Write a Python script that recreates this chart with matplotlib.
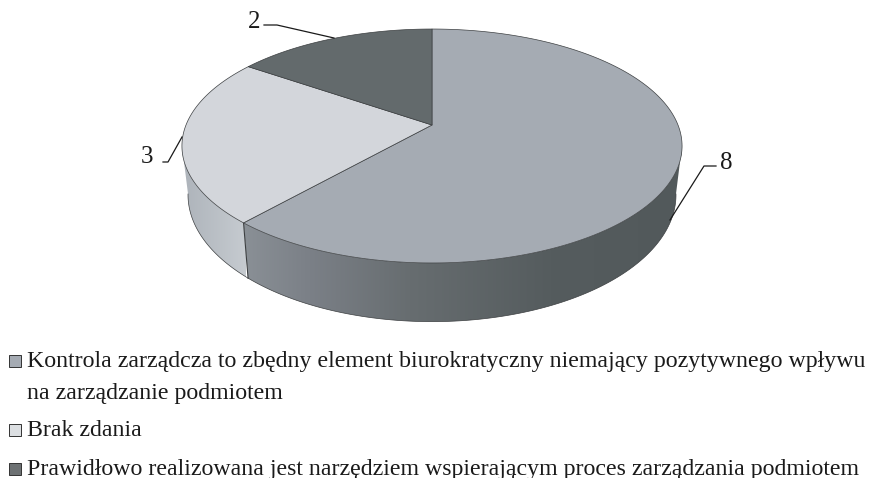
import numpy as np
import matplotlib
matplotlib.use("Agg")
import matplotlib.pyplot as plt
from matplotlib.colors import LinearSegmentedColormap
from matplotlib.patches import Polygon, Rectangle

plt.rcParams['font.family'] = ['Liberation Serif', 'DejaVu Serif']

W, H = 871, 478

values = [8, 3, 2]
value_labels = ['8', '3', '2']
legend_lines = [
    ["Kontrola zarządcza to zbędny element biurokratyczny niemający pozytywnego wpływu",
     "na zarządzanie podmiotem"],
    ["Brak zdania"],
    ["Prawidłowo realizowana jest narzędziem wspierającym proces zarządzania podmiotem"],
]
face_colors = ['#a5abb3', '#d3d6db', '#636a6c']
legend_colors = ['#a5abb3', '#dcdfe2', '#6d7173']
edge_color = '#3c3f41'

# perspective of the two discs: x centre, apex y, x scale, y scale, foreshortening
CX = 432
TOP_DISC = (125, 246, 113.2, 0.1795)
BOTTOM_DISC = (172, 240, 122.7, 0.18)
SILHOUETTE = 100  # degrees from the top where the wall stops being visible


def project(theta, disc):
    # theta in degrees, clockwise from the top of the disc
    apex_y, a, b, k = disc
    t = np.radians(np.asarray(theta, dtype=float))
    u, v = np.sin(t), np.cos(t)
    return np.column_stack([CX + a * u / (1 + k * v), apex_y - b * v / (1 + k * v)])


def wall(ax, t0, t1, cmap_stops, x0, x1):
    steps = np.linspace(t0, t1, 120)
    outline = np.vstack([project(steps, TOP_DISC), project(steps[::-1], BOTTOM_DISC)])
    patch = Polygon(outline, closed=True, facecolor='none', edgecolor='none')
    ax.add_patch(patch)
    cmap = LinearSegmentedColormap.from_list('wall', cmap_stops)
    im = ax.imshow(np.linspace(0, 1, 256)[None, :], cmap=cmap, aspect='auto',
                   extent=[x0, x1, H, 0], zorder=1)
    im.set_clip_path(patch)
    lower = project(steps, BOTTOM_DISC)
    ax.plot(lower[:, 0], lower[:, 1], color=edge_color, lw=0.5, zorder=2)


fig = plt.figure(figsize=(W / 100, H / 100), dpi=100)
ax = fig.add_axes([0, 0, 1, 1])

bounds = np.concatenate([[0], np.cumsum(values) / np.sum(values) * 360])

# side walls
wall(ax, SILHOUETTE, bounds[1], [(0, '#8a9096'), (0.15, '#7b8087'), (0.38, '#676d70'),
                                 (0.7, '#555c5e'), (1, '#52595b')], 243, 682)
wall(ax, bounds[1], 360 - SILHOUETTE, [(0, '#adb3ba'), (1, '#c6cbd0')], 182, 245)
split_top = project([bounds[1]], TOP_DISC)[0]
split_bottom = project([bounds[1]], BOTTOM_DISC)[0]
ax.plot([split_top[0], split_bottom[0]], [split_top[1], split_bottom[1]],
        color=edge_color, lw=0.8, zorder=2)

# top face
for i in range(len(values)):
    arc = project(np.linspace(bounds[i], bounds[i + 1], 200), TOP_DISC)
    pts = np.vstack([[CX, TOP_DISC[0]], arc])
    ax.add_patch(Polygon(pts, closed=True, facecolor=face_colors[i], edgecolor=edge_color,
                         lw=0.5, joinstyle='round', zorder=3))

# value labels with leader lines
leaders = [([716, 704, 670], [166, 166, 220], 726, 163),
           ([163, 168, 182], [162, 162, 137], 147, 157),
           ([264, 277, 334], [25, 25, 38], 254, 22)]
for label, (lx, ly, tx, ty) in zip(value_labels, leaders):
    ax.plot(lx, ly, color='#1a1a1a', lw=0.9, zorder=4)
    ax.text(tx, ty, label, fontsize=18, color='#1a1a1a', ha='center', va='center')

# legend
line_y = [[361.5, 394], [430], [469]]
for color, lines, ys in zip(legend_colors, legend_lines, line_y):
    ax.add_patch(Rectangle((8.5, ys[0] - 6.5), 12, 12, facecolor=color, edgecolor='#333333', lw=0.7))
    for line, y in zip(lines, ys):
        ax.text(27, y, line, fontsize=17.2, color='#1a1a1a', ha='left', va='center')

ax.set_xlim(0, W)
ax.set_ylim(H, 0)
ax.axis('off')

fig.savefig('out.png', dpi=100)
